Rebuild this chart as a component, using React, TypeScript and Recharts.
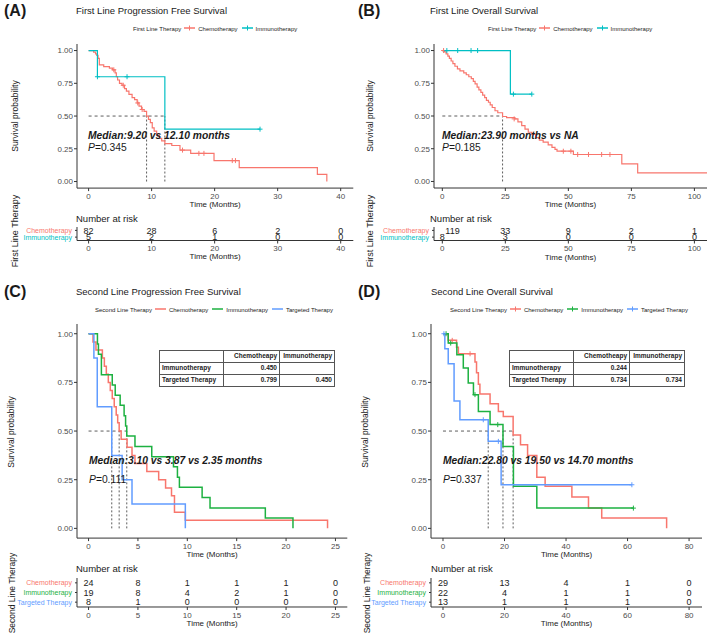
import React from 'react';
import { ComposedChart, Line, Scatter, XAxis, YAxis, ReferenceLine } from 'recharts';

const FONT = '"Liberation Sans", Arial, Helvetica, sans-serif';
const RED = '#F8766D';
const TEAL = '#00BFC4';
const GREEN = '#1DB141';
const BLUE = '#619CFF';
const AXIS = '#333333';

type Pt = [number, number];

// ---------- (A) first line PFS ----------
const aChemoSteps: Pt[] = [
  [0, 1], [0.8, 0.988], [1.1, 0.975], [1.3, 0.963], [1.5, 0.94], [1.7, 0.89], [2.4, 0.878],
  [3.3, 0.866], [3.8, 0.853], [4.2, 0.83], [4.4, 0.8], [4.6, 0.775], [4.9, 0.75], [5.3, 0.735],
  [5.7, 0.71], [6.0, 0.69], [6.4, 0.665], [6.9, 0.64], [7.3, 0.625], [7.7, 0.6], [8.0, 0.575],
  [8.4, 0.55], [8.8, 0.535], [9.2, 0.5], [9.5, 0.475], [9.8, 0.45], [10.1, 0.41], [10.4, 0.385],
  [10.8, 0.355], [11.2, 0.33], [11.6, 0.31], [12.1, 0.29], [13.2, 0.275], [14.5, 0.24],
  [16.2, 0.215], [19.9, 0.16], [23.9, 0.107], [36.3, 0.055], [37.8, 0],
];
const aChemoCensor: Pt[] = [
  [4.0, 0.853], [5.5, 0.735], [7.8, 0.6], [8.5, 0.55], [14.9, 0.24], [17.5, 0.215],
  [18.3, 0.215], [22.8, 0.16], [23.3, 0.16],
];
const aImmunoSteps: Pt[] = [[0, 1], [1.4, 0.8], [12.1, 0.4], [27.2, 0.4]];
const aImmunoCensor: Pt[] = [[1.4, 0.8], [6.1, 0.8], [27.2, 0.4]];
const aMedians = [9.2, 12.1];
const aTicks = [0, 10, 20, 30, 40];
const aRiskChemo = [82, 28, 6, 2, 0];
const aRiskImmuno = [5, 2, 1, 0, 0];

// ---------- (B) first line OS ----------
const bChemoSteps: Pt[] = [
  [0, 1], [0.8, 0.99], [1.5, 0.975], [2.2, 0.958], [2.8, 0.94], [3.5, 0.92], [4.2, 0.9],
  [5, 0.88], [6, 0.86], [7, 0.845], [8.5, 0.83], [9.5, 0.815], [10.5, 0.8], [11.5, 0.785],
  [12.3, 0.765], [13, 0.745], [13.8, 0.72], [14.5, 0.7], [15.3, 0.68], [16, 0.66],
  [16.8, 0.64], [17.5, 0.62], [18.3, 0.605], [19, 0.585], [19.8, 0.565], [20.9, 0.54],
  [22, 0.525], [23.9, 0.496], [25.5, 0.487], [28.8, 0.478], [30, 0.455], [31.5, 0.427],
  [32.8, 0.4], [34.1, 0.376], [35.5, 0.36], [37, 0.335], [38.5, 0.315], [40, 0.3],
  [42, 0.28], [43.5, 0.26], [44.7, 0.245], [45.5, 0.231], [52, 0.206], [71.2, 0.135],
  [77.5, 0.066], [105, 0.066],
];
const bChemoCensor: Pt[] = [
  [0.5, 1], [28.5, 0.478], [48, 0.231], [51, 0.231], [53.7, 0.206], [58, 0.206],
  [63.2, 0.206], [66.5, 0.206],
];
const bImmunoSteps: Pt[] = [[0, 1], [27, 0.667], [35.5, 0.667]];
const bImmunoCensor: Pt[] = [[1.8, 1], [6.1, 1], [11.4, 1], [14, 1], [28.2, 0.667], [35.5, 0.667]];
const bMedians = [23.9];
const bTicks = [0, 25, 50, 75, 100];
const bRiskChemo = [119, 33, 9, 2, 1];
const bRiskImmuno = [8, 3, 0, 0, 0];

// ---------- (C) second line PFS ----------
const cChemoSteps: Pt[] = [
  [0, 1], [0.45, 0.958], [0.75, 0.917], [1.4, 0.875], [1.6, 0.833], [1.8, 0.792], [2.0, 0.75],
  [2.2, 0.708], [2.4, 0.667], [2.6, 0.625], [2.8, 0.583], [2.95, 0.542], [3.1, 0.5],
  [3.3, 0.458], [3.9, 0.417], [4.4, 0.375], [4.7, 0.333], [5.9, 0.292], [7.1, 0.25],
  [7.8, 0.208], [8.4, 0.167], [8.7, 0.083], [9.8, 0.042], [24.2, 0],
];
const cImmunoSteps: Pt[] = [
  [0, 1], [0.9, 0.947], [1.0, 0.895], [1.3, 0.789], [2.4, 0.737], [2.7, 0.684], [3.2, 0.632],
  [3.6, 0.579], [3.75, 0.526], [3.87, 0.474], [4.7, 0.421], [6.4, 0.368], [8.6, 0.316],
  [9.0, 0.263], [9.2, 0.211], [11.5, 0.158], [12.3, 0.105], [17.9, 0.053], [20.7, 0],
];
const cTargetSteps: Pt[] = [
  [0, 1], [0.54, 0.875], [0.88, 0.625], [2.35, 0.375], [3.4, 0.25], [4.4, 0.125], [9.8, 0],
];
const cMedians = [3.1, 3.87, 2.35];
const cTicks = [0, 5, 10, 15, 20, 25];
const cRiskChemo = [24, 8, 1, 1, 1, 0];
const cRiskImmuno = [19, 8, 4, 2, 1, 0];
const cRiskTarget = [8, 1, 0, 0, 0, 0];
const cPvals = [['Immunotherapy', '0.450', ''], ['Targeted Therapy', '0.799', '0.450']];

// ---------- (D) second line OS ----------
const dChemoSteps: Pt[] = [
  [0, 1], [1.7, 0.966], [4.4, 0.931], [5.0, 0.897], [10.4, 0.855], [10.9, 0.8], [11.5, 0.74],
  [12.0, 0.69], [15.3, 0.64], [18.0, 0.6], [19.6, 0.575], [22.8, 0.48], [25.2, 0.43],
  [27.5, 0.375], [30.5, 0.262], [33.2, 0.216], [41.9, 0.161], [47.3, 0.104], [51.6, 0.053],
  [72.7, 0],
];
const dChemoCensor: Pt[] = [[3.0, 0.966], [8.8, 0.897]];
const dImmunoSteps: Pt[] = [
  [0, 1], [1.7, 0.952], [4.5, 0.892], [6.6, 0.824], [8.2, 0.747], [9.9, 0.687], [11.5, 0.6],
  [15.3, 0.533], [19.5, 0.421], [22.9, 0.216], [30.5, 0.104], [61.9, 0.104],
];
const dImmunoCensor: Pt[] = [[1.0, 1], [2.5, 0.952], [10.4, 0.687], [17.8, 0.533], [61.9, 0.104]];
const dTargetSteps: Pt[] = [
  [0, 1], [0.6, 0.923], [1.7, 0.846], [3.6, 0.654], [5.5, 0.558], [14.7, 0.447], [18.9, 0.224],
  [61.4, 0.224],
];
const dTargetCensor: Pt[] = [[0.3, 1], [13.1, 0.558], [18.0, 0.447], [61.4, 0.224]];
const dMedians = [22.8, 19.5, 14.7];
const dTicks = [0, 20, 40, 60, 80];
const dRiskChemo = [29, 13, 4, 1, 0];
const dRiskImmuno = [22, 4, 1, 1, 0];
const dRiskTarget = [13, 1, 1, 1, 0];
const dPvals = [['Immunotherapy', '0.244', ''], ['Targeted Therapy', '0.734', '0.734']];

const yTicks = [0, 0.25, 0.5, 0.75, 1];

type Curve = { color: string; steps: Pt[]; censor?: Pt[] };
type Box = { L: number; R: number; T: number; B: number };

const toRows = (pts: Pt[]) => pts.map(([t, y]) => ({ t, y }));

const plusShape = (color: string) => (p: any) => (
  <g>
    <line x1={p.cx - 2.5} y1={p.cy} x2={p.cx + 2.5} y2={p.cy} stroke={color} strokeWidth={1} />
    <line x1={p.cx} y1={p.cy - 2.5} x2={p.cx} y2={p.cy + 2.5} stroke={color} strokeWidth={1} />
  </g>
);

const tickStyle = { fontSize: 8, fill: '#4D4D4D', fontFamily: FONT };
const axisLabel = (value: string) => ({
  value, position: 'insideBottom' as const, offset: 3,
  style: { fontSize: 8, fill: '#222', fontFamily: FONT },
});

function KMPlot({ box, xDomain, xTicks, curves, medians, strokeWidth }: {
  box: Box; xDomain: [number, number]; xTicks: number[]; curves: Curve[]; medians: number[]; strokeWidth: number;
}) {
  const { L, R, T, B } = box;
  const yW = 40, xH = 22, mt = 4, mr = 6;
  const mMax = Math.max(...medians);
  return (
    <div style={{ position: 'absolute', left: L - yW, top: T - mt }}>
      <ComposedChart width={R - L + yW + mr} height={B - T + mt + xH}
        margin={{ top: mt, right: mr, bottom: 0, left: 0 }}>
        <XAxis type="number" dataKey="t" domain={xDomain} ticks={xTicks} interval={0}
          allowDataOverflow height={xH} tickSize={3} tickMargin={2} tick={tickStyle}
          axisLine={{ stroke: AXIS }} tickLine={{ stroke: AXIS }} label={axisLabel('Time (Months)')} />
        <YAxis type="number" dataKey="y" domain={[-0.05, 1.05]} ticks={yTicks} interval={0}
          allowDataOverflow width={yW} tickSize={3} tickMargin={1} tick={tickStyle}
          axisLine={{ stroke: AXIS }} tickLine={{ stroke: AXIS }}
          tickFormatter={(v: number) => v.toFixed(2)} />
        <ReferenceLine segment={[{ x: 0, y: 0.5 }, { x: mMax, y: 0.5 }]} stroke="#333"
          strokeDasharray="3 3" strokeWidth={0.8} />
        {medians.map((m, i) => (
          <ReferenceLine key={'m' + i} segment={[{ x: m, y: 0 }, { x: m, y: 0.5 }]} stroke="#333"
            strokeDasharray="2 2" strokeWidth={0.8} />
        ))}
        {curves.map((c, i) => (
          <Line key={'l' + i} data={toRows(c.steps)} dataKey="y" type="stepAfter" stroke={c.color}
            strokeWidth={strokeWidth} dot={false} isAnimationActive={false} />
        ))}
        {curves.filter((c) => c.censor).map((c, i) => (
          <Scatter key={'c' + i} data={toRows(c.censor!)} dataKey="y" fill={c.color}
            shape={plusShape(c.color)} isAnimationActive={false} />
        ))}
      </ComposedChart>
    </div>
  );
}

function RiskTable({ box, xDomain, xTicks, rows }: {
  box: Box; xDomain: [number, number]; xTicks: number[];
  rows: { name: string; color: string; counts: number[] }[];
}) {
  const { L, R, T, B } = box;
  const yW = 80, xH = 22, mr = 6;
  const n = rows.length;
  const cells = rows.flatMap((r, i) => r.counts.map((c, j) => ({ t: xTicks[j], y: n - i, n: c, first: j === 0 })));
  const rowTick = (p: any) => {
    const r = rows[n - p.payload.value];
    return (
      <text x={p.x} y={p.y} dy="0.35em" textAnchor="end" fontSize={7} fontFamily={FONT} fill={r.color}>
        {r.name}
      </text>
    );
  };
  return (
    <div style={{ position: 'absolute', left: L - yW, top: T }}>
      <ComposedChart width={R - L + yW + mr} height={B - T + xH}
        margin={{ top: 0, right: mr, bottom: 0, left: 0 }}>
        <XAxis type="number" dataKey="t" domain={xDomain} ticks={xTicks} interval={0}
          allowDataOverflow height={xH} tickSize={3} tickMargin={2} tick={tickStyle}
          axisLine={{ stroke: AXIS }} tickLine={{ stroke: AXIS }} label={axisLabel('Time (Months)')} />
        <YAxis type="number" dataKey="y" domain={[0.5, n + 0.5]} ticks={rows.map((_, i) => i + 1)}
          interval={0} width={yW} tickSize={2} tickMargin={3} tick={rowTick}
          axisLine={{ stroke: AXIS }} tickLine={{ stroke: AXIS }} />
        <Scatter data={cells} dataKey="y" isAnimationActive={false}
          shape={(p: any) => {
            // a three-digit count at time 0 sits to the right of the axis line, as in the source
            const wide = p.payload.first && String(p.payload.n).length > 2;
            return (
              <text x={wide ? p.cx + 3 : p.cx} y={p.cy} dy="0.35em" textAnchor={wide ? 'start' : 'middle'}
                fontSize={9} fontFamily={FONT} fill="#222">
                {p.payload.n}
              </text>
            );
          }} />
      </ComposedChart>
    </div>
  );
}

function Txt({ x, y, size, children, bold, italic, color }: any) {
  return (
    <div style={{
      position: 'absolute', left: x, top: y, transform: 'translateY(-50%)', fontFamily: FONT,
      fontSize: size, lineHeight: 1, whiteSpace: 'nowrap', fontWeight: bold ? 700 : 400,
      fontStyle: italic ? 'italic' : 'normal', color: color || '#1a1a1a',
    }}>{children}</div>
  );
}

function RotTxt({ x, y, size, children }: any) {
  return (
    <div style={{
      position: 'absolute', left: x, top: y, transform: 'translate(-50%, -50%) rotate(-90deg)',
      fontFamily: FONT, fontSize: size, lineHeight: 1, whiteSpace: 'nowrap', color: '#1a1a1a',
    }}>{children}</div>
  );
}

function LegendRow({ x, y, title, items }: { x: number; y: number; title: string; items: { name: string; color: string; plus: boolean }[] }) {
  return (
    <div style={{
      position: 'absolute', left: x, top: y, transform: 'translateY(-50%)', display: 'flex',
      alignItems: 'center', fontFamily: FONT, fontSize: 6, color: '#222', whiteSpace: 'nowrap', lineHeight: 1,
    }}>
      <span style={{ marginRight: 3 }}>{title}</span>
      {items.map((it) => (
        <span key={it.name} style={{ display: 'flex', alignItems: 'center', marginRight: 4 }}>
          <svg width={11} height={7}>
            <line x1={0} y1={3.5} x2={11} y2={3.5} stroke={it.color} strokeWidth={1.3} />
            {it.plus && <line x1={5.5} y1={1} x2={5.5} y2={6} stroke={it.color} strokeWidth={1} />}
          </svg>
          <span style={{ marginLeft: 3 }}>{it.name}</span>
        </span>
      ))}
    </div>
  );
}

function PTable({ x, y, rows }: { x: number; y: number; rows: string[][] }) {
  const cell = (w: number, align: 'left' | 'right'): React.CSSProperties => ({
    width: w, height: 12, border: '1px solid #555', padding: '0 2px', textAlign: align, boxSizing: 'border-box',
  });
  return (
    <table style={{
      position: 'absolute', left: x, top: y, borderCollapse: 'collapse', fontFamily: FONT,
      fontSize: 6.5, fontWeight: 700, color: '#222', lineHeight: 1, tableLayout: 'fixed',
    }}>
      <tbody>
        <tr>
          <td style={cell(64, 'left')}></td>
          <td style={cell(56, 'right')}>Chemotheapy</td>
          <td style={cell(55, 'right')}>Immunotherapy</td>
        </tr>
        {rows.map((r) => (
          <tr key={r[0]}>
            <td style={cell(64, 'left')}>{r[0]}</td>
            <td style={cell(56, 'right')}>{r[1]}</td>
            <td style={cell(55, 'right')}>{r[2]}</td>
          </tr>
        ))}
      </tbody>
    </table>
  );
}

export default function App() {
  const boxA: Box = { L: 76.7, R: 353, T: 44.2, B: 188.3 };
  const domA: [number, number] = [-1.84, 42.0];
  const boxB: Box = { L: 434, R: 707, T: 43.5, B: 187.5 };
  const domB: [number, number] = [-3.3, 105];
  const boxC: Box = { L: 76.7, R: 347, T: 324.3, B: 538.4 };
  const domC: [number, number] = [-1.17, 26.2];
  const boxD: Box = { L: 431, R: 702, T: 324.3, B: 538.4 };
  const domD: [number, number] = [-3.9, 84.2];

  const firstLegend = [
    { name: 'Chemotherapy', color: RED, plus: true },
    { name: 'Immunotherapy', color: TEAL, plus: true },
  ];

  return (
    <div style={{ position: 'absolute', left: 0, top: 0, width: 709, height: 635, background: '#fff', overflow: 'hidden' }}>
      {/* (A) */}
      <Txt x={4} y={11} size={16} bold>(A)</Txt>
      <Txt x={76} y={11} size={9.5}>First Line Progression Free Survival</Txt>
      <LegendRow x={133} y={28} title="First Line Therapy" items={firstLegend} />
      <RotTxt x={15} y={116} size={8.5}>Survival probability</RotTxt>
      <KMPlot box={boxA} xDomain={domA} xTicks={aTicks} medians={aMedians} strokeWidth={1.2}
        curves={[
          { color: RED, steps: aChemoSteps, censor: aChemoCensor },
          { color: TEAL, steps: aImmunoSteps, censor: aImmunoCensor },
        ]} />
      <Txt x={88} y={136} size={10.3} bold italic>Median:9.20 vs 12.10 months</Txt>
      <Txt x={88} y={148} size={10.3}><i>P</i>=0.345</Txt>
      <Txt x={76} y={219} size={9.5}>Number at risk</Txt>
      <RiskTable box={{ L: boxA.L, R: boxA.R, T: 227, B: 240.5 }} xDomain={domA} xTicks={aTicks}
        rows={[
          { name: 'Chemotherapy', color: RED, counts: aRiskChemo },
          { name: 'Immunotherapy', color: TEAL, counts: aRiskImmuno },
        ]} />
      <RotTxt x={15} y={231} size={9}>First Line Therapy</RotTxt>

      {/* (B) */}
      <Txt x={358} y={11} size={16} bold>(B)</Txt>
      <Txt x={430} y={11} size={9.5}>First Line Overall Survival</Txt>
      <LegendRow x={488} y={28} title="First Line Therapy" items={firstLegend} />
      <RotTxt x={370} y={116} size={8.5}>Survival probability</RotTxt>
      <KMPlot box={boxB} xDomain={domB} xTicks={bTicks} medians={bMedians} strokeWidth={1.2}
        curves={[
          { color: RED, steps: bChemoSteps, censor: bChemoCensor },
          { color: TEAL, steps: bImmunoSteps, censor: bImmunoCensor },
        ]} />
      <Txt x={442} y={136} size={10.3} bold italic>Median:23.90 months vs NA</Txt>
      <Txt x={442} y={148} size={10.3}><i>P</i>=0.185</Txt>
      <Txt x={430} y={219} size={9.5}>Number at risk</Txt>
      <RiskTable box={{ L: boxB.L, R: boxB.R, T: 227, B: 240.5 }} xDomain={domB} xTicks={bTicks}
        rows={[
          { name: 'Chemotherapy', color: RED, counts: bRiskChemo },
          { name: 'Immunotherapy', color: TEAL, counts: bRiskImmuno },
        ]} />
      <RotTxt x={370} y={231} size={9}>First Line Therapy</RotTxt>

      {/* (C) */}
      <Txt x={4} y={292} size={16} bold>(C)</Txt>
      <Txt x={76} y={292} size={9.5}>Second Line Progression Free Survival</Txt>
      <LegendRow x={95} y={309} title="Second Line Therapy" items={[
        { name: 'Chemotherapy', color: RED, plus: false },
        { name: 'Immunotherapy', color: GREEN, plus: false },
        { name: 'Targeted Therapy', color: BLUE, plus: false },
      ]} />
      <RotTxt x={11} y={432} size={8.5}>Survival probability</RotTxt>
      <KMPlot box={boxC} xDomain={domC} xTicks={cTicks} medians={cMedians} strokeWidth={1.5}
        curves={[
          { color: RED, steps: cChemoSteps },
          { color: GREEN, steps: cImmunoSteps },
          { color: BLUE, steps: cTargetSteps },
        ]} />
      <PTable x={159} y={350} rows={cPvals} />
      <Txt x={89} y={461} size={10.3} bold italic>Median:3.10 vs 3.87 vs 2.35 months</Txt>
      <Txt x={89} y={480} size={10.3}><i>P</i>=0.111</Txt>
      <Txt x={76} y={569} size={9.5}>Number at risk</Txt>
      <RiskTable box={{ L: boxC.L, R: boxC.R, T: 578.2, B: 607.2 }} xDomain={domC} xTicks={cTicks}
        rows={[
          { name: 'Chemotherapy', color: RED, counts: cRiskChemo },
          { name: 'Immunotherapy', color: GREEN, counts: cRiskImmuno },
          { name: 'Targeted Therapy', color: BLUE, counts: cRiskTarget },
        ]} />
      <RotTxt x={12} y={593} size={8.5}>Second Line Therapy</RotTxt>

      {/* (D) */}
      <Txt x={358} y={292} size={16} bold>(D)</Txt>
      <Txt x={431} y={292} size={9.5}>Second Line Overall Survival</Txt>
      <LegendRow x={450} y={309} title="Second Line Therapy" items={[
        { name: 'Chemotherapy', color: RED, plus: true },
        { name: 'Immunotherapy', color: GREEN, plus: true },
        { name: 'Targeted Therapy', color: BLUE, plus: true },
      ]} />
      <RotTxt x={365} y={432} size={8.5}>Survival probability</RotTxt>
      <KMPlot box={boxD} xDomain={domD} xTicks={dTicks} medians={dMedians} strokeWidth={1.5}
        curves={[
          { color: RED, steps: dChemoSteps, censor: dChemoCensor },
          { color: GREEN, steps: dImmunoSteps, censor: dImmunoCensor },
          { color: BLUE, steps: dTargetSteps, censor: dTargetCensor },
        ]} />
      <PTable x={509} y={350} rows={dPvals} />
      <Txt x={443} y={461} size={10.3} bold italic>Median:22.80 vs 19.50 vs 14.70 months</Txt>
      <Txt x={443} y={480} size={10.3}><i>P</i>=0.337</Txt>
      <Txt x={431} y={569} size={9.5}>Number at risk</Txt>
      <RiskTable box={{ L: boxD.L, R: boxD.R, T: 578.2, B: 607.2 }} xDomain={domD} xTicks={dTicks}
        rows={[
          { name: 'Chemotherapy', color: RED, counts: dRiskChemo },
          { name: 'Immunotherapy', color: GREEN, counts: dRiskImmuno },
          { name: 'Targeted Therapy', color: BLUE, counts: dRiskTarget },
        ]} />
      <RotTxt x={367} y={593} size={8.5}>Second Line Therapy</RotTxt>
    </div>
  );
}
